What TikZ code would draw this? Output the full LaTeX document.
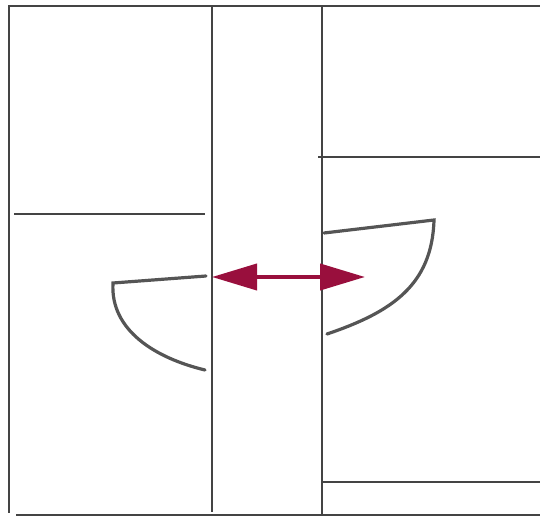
\documentclass[tikz,border=0pt]{standalone}
\usepackage{tikz}
\usetikzlibrary{arrows.meta}
\definecolor{wallgray}{HTML}{444444}
\definecolor{bowlgray}{HTML}{555555}
\definecolor{swingred}{HTML}{990F3D}
\tikzset{
  wall/.style={draw=wallgray, line width=2.2bp},
  bowl/.style={draw=bowlgray, line width=3.2bp, line cap=round},
  swing/.style={draw=swingred, line width=4bp,
                {Triangle[length=45bp,width=26bp]}-{Triangle[length=45bp,width=26bp]}},
}

\begin{document}
\begin{tikzpicture}[x=1bp, y=-1bp]
    \useasboundingbox (0,0) rectangle (540,517);
    % outer frame and panels
    \draw[wall] (540,6) -- (9,6) -- (9,513);
    \draw[wall] (16,515) -- (540,515);
    \draw[wall] (212,6) -- (212,512);
    \draw[wall] (322,6) -- (322,515);
    \draw[wall] (14,214) -- (205,214);
    \draw[wall] (318,157) -- (540,157);
    \draw[wall] (322,482) -- (540,482);
    % bowls
    \draw[bowl] (206,276) -- (113,283)
      .. controls (110,330) and (155,358) .. (205,370);
    \draw[bowl] (324,233) -- (434,220)
      .. controls (432,285) and (392,312) .. (327,334);
    % swing arrow
    \coordinate (lefttip) at (212,277);
    \coordinate (righttip) at (365,277);
    \draw[swing] (lefttip) -- (righttip);
\end{tikzpicture}
\end{document}
